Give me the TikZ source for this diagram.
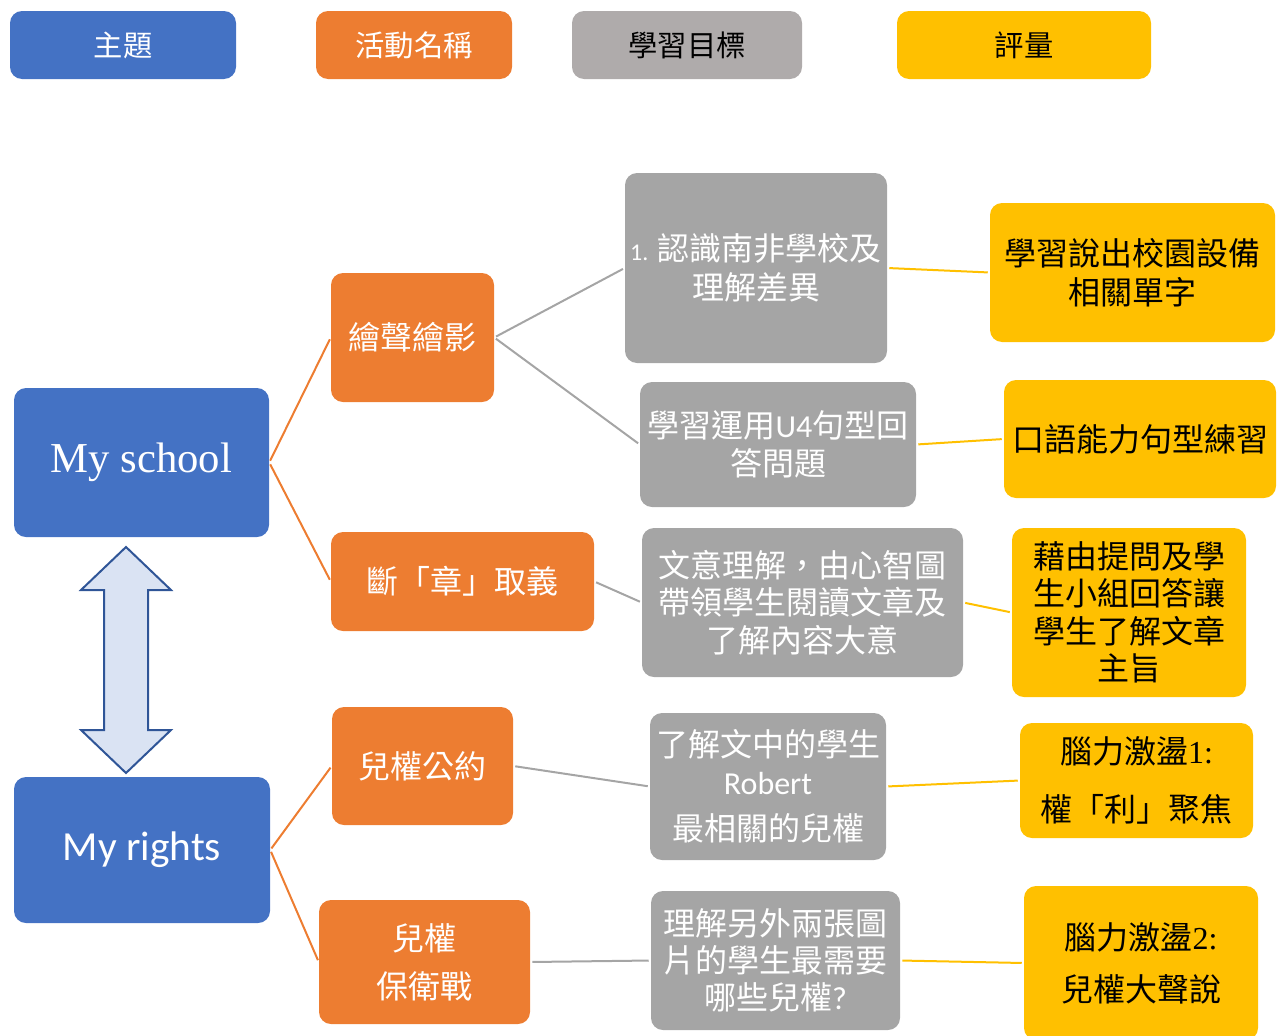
\documentclass[tikz,border=0pt]{standalone}
\usepackage{fontspec}
\setmainfont{Liberation Serif}
\newfontfamily\cjk{Noto Sans CJK TC}
\newfontfamily\calfont{Carlito}
\definecolor{cblue}{HTML}{4472C4}
\definecolor{corange}{HTML}{ED7D31}
\definecolor{cgray}{HTML}{A5A5A5}
\definecolor{clgray}{HTML}{AFABAB}
\definecolor{cgold}{HTML}{FFC000}
\definecolor{carrowfill}{HTML}{DAE3F3}
\definecolor{carrowline}{HTML}{2F5597}
\begin{document}
\begin{tikzpicture}[x=0.75pt,y=-0.75pt,
  area/.style args={#1/#2/#3/#4}{minimum width={(#3-#1)*0.75pt},
    minimum height={(#4-#2)*0.75pt}, at={({(#1+#3)/2},{(#2+#4)/2})}},
  base/.style={rounded corners=9pt, inner sep=0pt, align=center, draw=none,
    font=\cjk\fontsize{24}{29}\selectfont},
  legend/.style={base, font=\cjk\fontsize{22}{26}\selectfont},
  topicbox/.style={base, fill=cblue, text=white},
  actbox/.style={base, fill=corange, text=white},
  goalbox/.style={base, fill=cgray, text=white},
  evalbox/.style={base, fill=cgold, text=black},
  oline/.style={draw=corange, line width=1.5pt, shorten <=1.5pt, shorten >=1.5pt},
  gline/.style={draw=cgray, line width=1.5pt, shorten <=1.5pt, shorten >=1.5pt},
  yline/.style={draw=cgold, line width=1.5pt, shorten <=1.5pt, shorten >=1.5pt}
]
\useasboundingbox (0,0) rectangle (1284,1035);

% legend
\node[legend, fill=cblue, text=white, area=10/11/236/79] (l1) {主題};
\node[legend, fill=corange, text=white, area=316/11/512/79] (l2) {活動名稱};
\node[legend, fill=clgray, text=black, area=572/11/802/79] (l3) {學習目標};
\node[legend, fill=cgold, text=black, area=897/11/1151/79] (l4) {評量};

% topics
\node[topicbox, area=14/388/269/537, font=\fontsize{32}{38}\selectfont] (ms) {My school};
\node[topicbox, area=14/777/270/923, font=\calfont\fontsize{31}{37}\selectfont] (mr) {My rights};

% double arrow
\draw[fill=carrowfill, draw=carrowline, line width=1.5pt, line join=miter]
  (126,547) -- (81,590) -- (104,590) -- (104,730) -- (81,730) -- (126,773)
  -- (171,730) -- (148,730) -- (148,590) -- (171,590) -- cycle;

% activities
\node[actbox, area=331/273/494/402] (a1) {繪聲繪影};
\node[actbox, area=331/532/594/631] (a2) {斷「章」取義};
\node[actbox, area=332/707/513/825] (a3) {兒權公約};
\node[actbox, area=319/900/530/1024, font=\cjk\fontsize{24}{36}\selectfont] (a4) {兒權\\保衛戰};

% goals
\node[goalbox, area=625/173/887/363] (g1) {{\calfont\fontsize{18}{29}\selectfont 1.} 認識南非學校及\\理解差異};
\node[goalbox, area=640/382/916/507] (g2) {學習運用{\calfont U4}句型回\\答問題};
\node[goalbox, area=642/528/963/677, font=\cjk\fontsize{24}{28}\selectfont] (g3) {文意理解，由心智圖\\帶領學生閱讀文章及\\了解內容大意};
\node[goalbox, area=650/713/886/860, font=\cjk\fontsize{24}{28}\selectfont] (g4) {了解文中的學生\\{\calfont Robert}\\[7pt]最相關的兒權};
\node[goalbox, area=651/891/900/1030, font=\cjk\fontsize{24}{28}\selectfont] (g5) {理解另外兩張圖\\片的學生最需要\\哪些兒權{\calfont ?}};

% evaluations
\node[evalbox, area=990/203/1275/342] (e1) {學習說出校園設備\\相關單字};
\node[evalbox, area=1004/380/1276/498] (e2) {口語能力句型練習};
\node[evalbox, area=1012/528/1246/697, font=\cjk\fontsize{24}{28}\selectfont] (e3) {藉由提問及學\\生小組回答讓\\學生了解文章\\主旨};
\node[evalbox, area=1020/723/1253/838, font=\cjk\fontsize{24}{44}\selectfont] (e4) {腦力激盪{\rmfamily 1:}\\權「利」聚焦};
\node[evalbox, area=1024/886/1258/1040, font=\cjk\fontsize{24}{39}\selectfont] (e5) {腦力激盪{\rmfamily 2:}\\兒權大聲說};

% connectors
\draw[oline] (ms.east) -- (a1.west);
\draw[oline] (ms.east) -- (a2.west);
\draw[oline] (mr.east) -- (a3.west);
\draw[oline] (mr.east) -- (a4.west);
\draw[gline] (a1.east) -- (g1.west);
\draw[gline] (a1.east) -- (g2.west);
\draw[gline] (a2.east) -- (g3.west);
\draw[gline] (a3.east) -- (g4.west);
\draw[gline] (a4.east) -- (g5.west);
\draw[yline] (g1.east) -- (e1.west);
\draw[yline] (g2.east) -- (e2.west);
\draw[yline] (g3.east) -- (e3.west);
\draw[yline] (g4.east) -- (e4.west);
\draw[yline] (g5.east) -- (e5.west);
\end{tikzpicture}
\end{document}
